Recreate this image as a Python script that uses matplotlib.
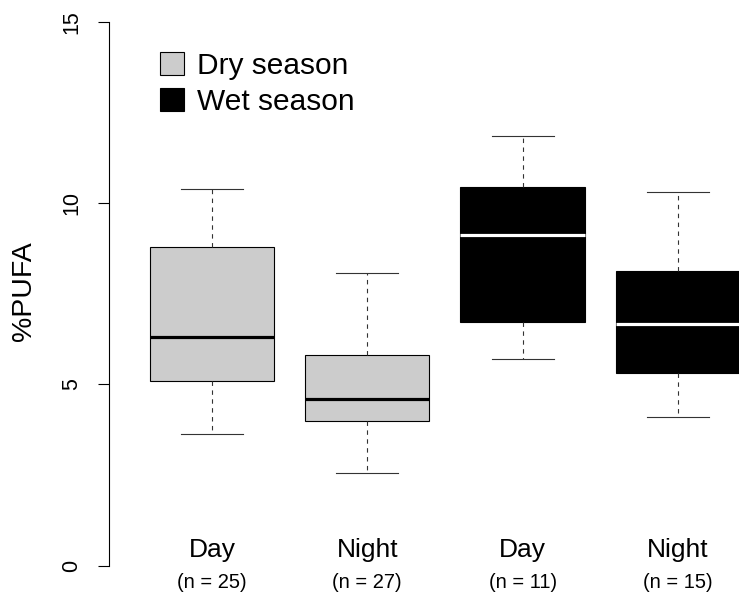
import matplotlib
matplotlib.use("Agg")
import matplotlib.pyplot as plt
from matplotlib.patches import Patch
import matplotlib.transforms as mtransforms

plt.rcParams['font.family'] = ['Liberation Sans', 'DejaVu Sans']

# box stats
groups = ["Day", "Night", "Day", "Night"]
counts = ["(n = 25)", "(n = 27)", "(n = 11)", "(n = 15)"]
season = ["dry", "dry", "wet", "wet"]
whislo = [3.64, 2.56, 5.71, 4.09]
q1 = [5.08, 4.00, 6.72, 5.32]
med = [6.30, 4.59, 9.12, 6.66]
q3 = [8.80, 5.80, 10.44, 8.12]
whishi = [10.39, 8.06, 11.84, 10.30]

fill = {"dry": "#cccccc", "wet": "black"}
medcol = {"dry": "black", "wet": "white"}

W, H = 739, 593
fig = plt.figure(figsize=(W / 100, H / 100), dpi=100)
# plot region runs past the right edge, like the original
ax = fig.add_axes([134.3 / W, 0.0, 621.3 / W, 1.0])
ax.patch.set_visible(False)

stats = []
for i in range(len(groups)):
    stats.append(dict(whislo=whislo[i], q1=q1[i], med=med[i],
                      q3=q3[i], whishi=whishi[i], fliers=[]))

pos = list(range(1, len(groups) + 1))
bp = ax.bxp(stats, positions=pos, widths=0.8, capwidths=0.4,
            patch_artist=True, showfliers=False,
            boxprops=dict(edgecolor="black", linewidth=0.8),
            whiskerprops=dict(color="#333333", linewidth=0.8,
                              linestyle=(0, (4, 4))),
            capprops=dict(color="#333333", linewidth=0.8),
            medianprops=dict(linewidth=2.3, solid_capstyle="butt"))

for i, s in enumerate(season):
    bp["boxes"][i].set_facecolor(fill[s])
    bp["medians"][i].set_color(medcol[s])

ax.set_xlim(0.5, 4.5)
ax.set_ylim(-0.753, 15.597)

for sp in ["top", "right", "bottom"]:
    ax.spines[sp].set_visible(False)
# axis line sits left of the first box, R style
ax.spines["left"].set_position(("outward", 25.3 * 72 / 100))
ax.spines["left"].set_bounds(0, 15)
ax.spines["left"].set_linewidth(0.8)
ax.set_xticks([])
ax.set_yticks([0, 5, 10, 15])
ax.set_yticklabels(["0", "5", "10", "15"], rotation=90, va="center",
                   fontsize=15.5)
ax.tick_params(axis="y", length=8, width=0.8, pad=11)

fig.text(24 / W, 1 - 291 / H, "%PUFA", rotation=90, ha="center",
         va="center", fontsize=20.5)

trans = mtransforms.blended_transform_factory(ax.transData, fig.transFigure)
for i in range(len(groups)):
    ax.text(pos[i], 1 - 550 / H, groups[i], transform=trans,
            ha="center", va="center", fontsize=19)
    ax.text(pos[i], 1 - 582 / H, counts[i], transform=trans,
            ha="center", va="center", fontsize=14.5)

handles = [Patch(facecolor=fill["dry"], edgecolor="black", linewidth=0.8),
           Patch(facecolor=fill["wet"], edgecolor="black", linewidth=0.8)]
fig.legend(handles, ["Dry season", "Wet season"], loc="upper left",
           bbox_to_anchor=(139 / W, 1 - 31 / H), frameon=False,
           fontsize=21.5, handlelength=0.8, handleheight=0.8,
           handletextpad=0.45, labelspacing=0.28, borderpad=0.2)

fig.savefig("out.png", dpi=100)
